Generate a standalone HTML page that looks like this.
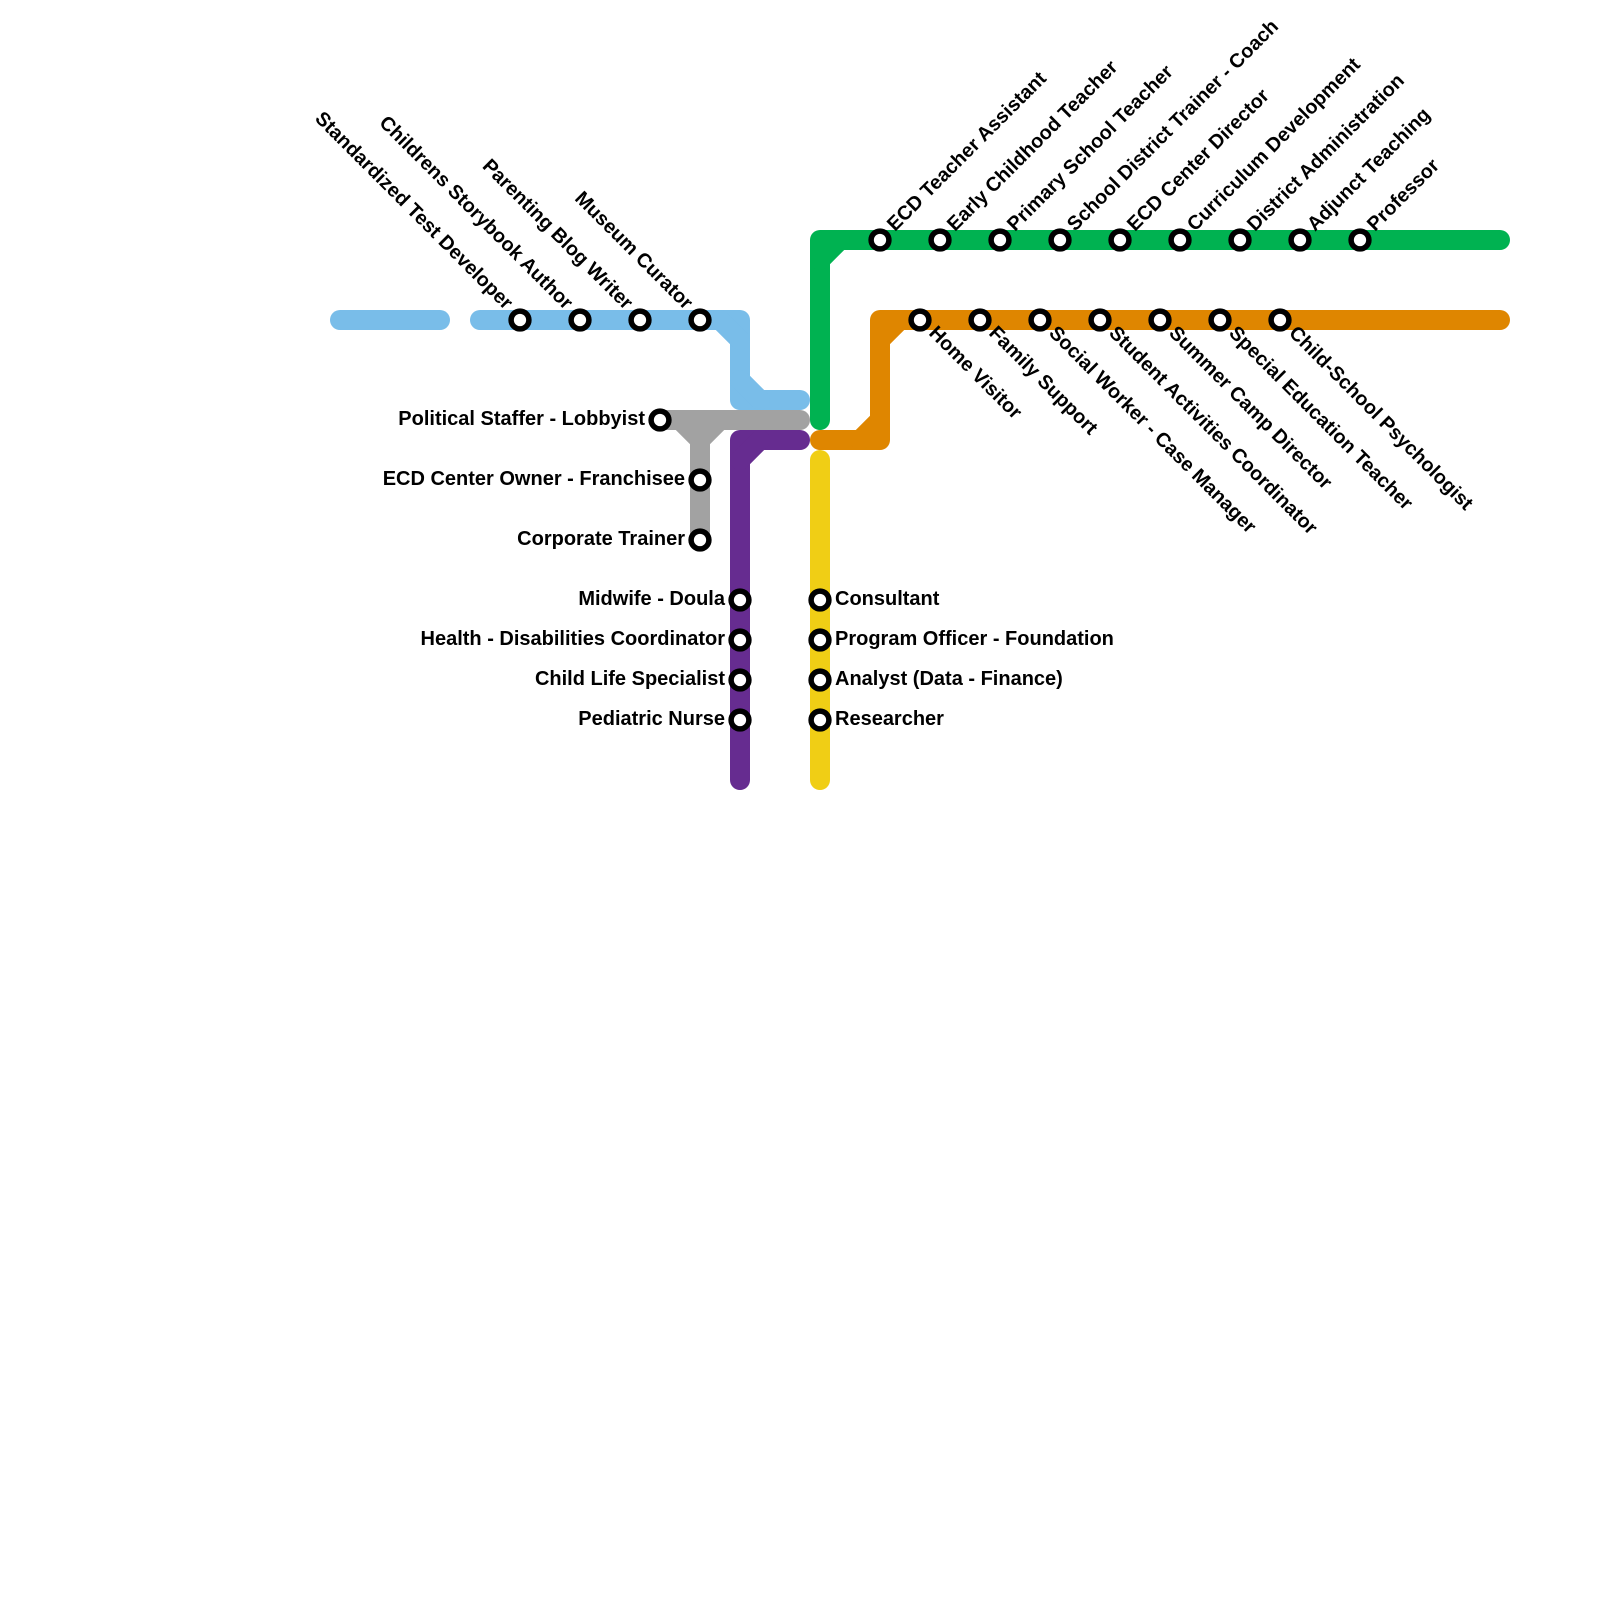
<!DOCTYPE html>
<html><head><meta charset="utf-8"><style>html,body{margin:0;padding:0;background:#fff}svg{display:block}text{font-family:"Liberation Sans",sans-serif;font-weight:bold;font-size:20px;fill:#000}text[transform]{font-size:19.8px}.e{text-anchor:end}</style></head><body>
<svg width="1600" height="1600" viewBox="0 0 1600 1600" xmlns="http://www.w3.org/2000/svg">
<rect width="1600" height="1600" fill="#fff"/>
<g fill="none" stroke-width="20" stroke-linecap="round" stroke-linejoin="round">
<g stroke="#79bde9"><path d="M340 320H440"/><path d="M480 320H740V400H800"/><path d="M720 320L740 340M740 380L760 400"/></g>
<g stroke="#a2a2a2"><path d="M660 420H800"/><path d="M700 420V540"/><path d="M680 420L700 440L720 420"/></g>
<g stroke="#662c90"><path d="M740 780V440H800"/><path d="M740 460L760 440"/></g>
<g stroke="#f0ce15"><path d="M820 460V780"/></g>
<g stroke="#00b251"><path d="M820 420V240H1500"/><path d="M820 260L840 240"/></g>
<g stroke="#df8600"><path d="M820 440H880V320H1500"/><path d="M860 440L880 420M880 340L900 320"/></g>
</g>
<g fill="#fff" stroke="#000" stroke-width="5.5">
<circle cx="520" cy="320" r="8.9"/><circle cx="580" cy="320" r="8.9"/><circle cx="640" cy="320" r="8.9"/><circle cx="700" cy="320" r="8.9"/>
<circle cx="660" cy="420" r="8.9"/><circle cx="700" cy="480" r="8.9"/><circle cx="700" cy="540" r="8.9"/>
<circle cx="740" cy="600" r="8.9"/><circle cx="740" cy="640" r="8.9"/><circle cx="740" cy="680" r="8.9"/><circle cx="740" cy="720" r="8.9"/>
<circle cx="820" cy="600" r="8.9"/><circle cx="820" cy="640" r="8.9"/><circle cx="820" cy="680" r="8.9"/><circle cx="820" cy="720" r="8.9"/>
<circle cx="880" cy="240" r="8.9"/><circle cx="940" cy="240" r="8.9"/><circle cx="1000" cy="240" r="8.9"/><circle cx="1060" cy="240" r="8.9"/><circle cx="1120" cy="240" r="8.9"/><circle cx="1180" cy="240" r="8.9"/><circle cx="1240" cy="240" r="8.9"/><circle cx="1300" cy="240" r="8.9"/><circle cx="1360" cy="240" r="8.9"/>
<circle cx="920" cy="320" r="8.9"/><circle cx="980" cy="320" r="8.9"/><circle cx="1040" cy="320" r="8.9"/><circle cx="1100" cy="320" r="8.9"/><circle cx="1160" cy="320" r="8.9"/><circle cx="1220" cy="320" r="8.9"/><circle cx="1280" cy="320" r="8.9"/>
</g>
<g>
<text class="e" transform="translate(505 310.5) rotate(45)">Standardized Test Developer</text>
<text class="e" transform="translate(565 310.5) rotate(45)">Childrens Storybook Author</text>
<text class="e" transform="translate(625 310.5) rotate(45)">Parenting Blog Writer</text>
<text class="e" transform="translate(685 310.5) rotate(45)">Museum Curator</text>
<text class="e" x="645" y="425">Political Staffer - Lobbyist</text>
<text class="e" x="685" y="485">ECD Center Owner - Franchisee</text>
<text class="e" x="685" y="545">Corporate Trainer</text>
<text class="e" x="725" y="605">Midwife - Doula</text>
<text class="e" x="725" y="645">Health - Disabilities Coordinator</text>
<text class="e" x="725" y="685">Child Life Specialist</text>
<text class="e" x="725" y="725">Pediatric Nurse</text>
<text x="835" y="605">Consultant</text>
<text x="835" y="645">Program Officer - Foundation</text>
<text x="835" y="685">Analyst (Data - Finance)</text>
<text x="835" y="725">Researcher</text>
<text transform="translate(895 232) rotate(-45)">ECD Teacher Assistant</text>
<text transform="translate(955 232) rotate(-45)">Early Childhood Teacher</text>
<text transform="translate(1015 232) rotate(-45)">Primary School Teacher</text>
<text transform="translate(1075 232) rotate(-45)">School District Trainer - Coach</text>
<text transform="translate(1135 232) rotate(-45)">ECD Center Director</text>
<text transform="translate(1195 232) rotate(-45)">Curriculum Development</text>
<text transform="translate(1255 232) rotate(-45)">District Administration</text>
<text transform="translate(1315 232) rotate(-45)">Adjunct Teaching</text>
<text transform="translate(1375 232) rotate(-45)">Professor</text>
<text transform="translate(928 334) rotate(45)">Home Visitor</text>
<text transform="translate(988 334) rotate(45)">Family Support</text>
<text transform="translate(1048 334) rotate(45)">Social Worker - Case Manager</text>
<text transform="translate(1108 334) rotate(45)">Student Activities Coordinator</text>
<text transform="translate(1168 334) rotate(45)">Summer Camp Director</text>
<text transform="translate(1228 334) rotate(45)">Special Education Teacher</text>
<text transform="translate(1288 334) rotate(45)">Child-School Psychologist</text>
</g>
</svg>
</body></html>
